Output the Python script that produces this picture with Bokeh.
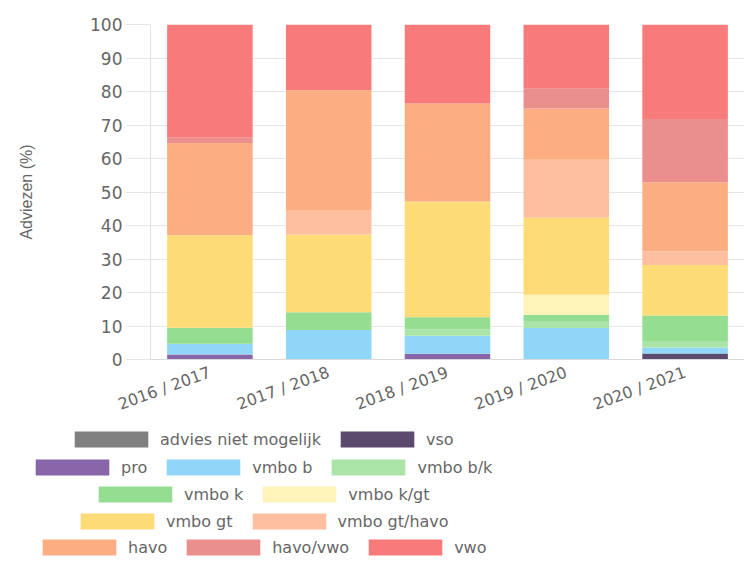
from bokeh.plotting import figure
from bokeh.models import FactorRange, Legend, LegendItem, SingleIntervalTicker
from bokeh.layouts import column
from bokeh.embed import file_html
from bokeh.resources import INLINE

years = ["2016 / 2017", "2017 / 2018", "2018 / 2019", "2019 / 2020", "2020 / 2021"]

series_names = ["advies niet mogelijk", "vso", "pro", "vmbo b", "vmbo b/k", "vmbo k",
                "vmbo k/gt", "vmbo gt", "vmbo gt/havo", "havo", "havo/vwo", "vwo"]

advies_niet_mogelijk = [0, 0, 0, 0, 0]
vso = [0, 0, 0, 0, 1.8]
pro = [1.5, 0, 1.7, 0, 0]
vmbo_b = [3.2, 8.8, 5.4, 9.4, 1.8]
vmbo_bk = [0, 0, 1.9, 1.9, 1.9]
vmbo_k = [4.8, 5.3, 3.6, 2.0, 7.6]
vmbo_kgt = [0, 0, 0, 6.0, 0]
vmbo_gt = [27.6, 23.2, 34.6, 23.0, 15.1]
vmbo_gt_havo = [0, 7.3, 0, 17.3, 4.1]
havo = [27.5, 35.8, 29.2, 15.3, 20.6]
havo_vwo = [1.6, 0, 0, 5.9, 18.9]
vwo = [33.8, 19.6, 23.6, 19.2, 28.2]

colors = ["#808080", "#5b4a6e", "#8966aa", "#8fd6f9", "#aae5a7", "#95dd90",
          "#fff3b9", "#fddc77", "#fdbf9f", "#fcae82", "#ea8f8d", "#f77b7b"]

series_values = [advies_niet_mogelijk, vso, pro, vmbo_b, vmbo_bk, vmbo_k,
                 vmbo_kgt, vmbo_gt, vmbo_gt_havo, havo, havo_vwo, vwo]

data = {"year": years}
for name, vals in zip(series_names, series_values):
    data[name] = vals

p = figure(x_range=FactorRange(factors=years, range_padding=0), y_range=(0, 100),
           width=744, height=425, output_backend="svg", toolbar_location=None,
           min_border_left=150, min_border_right=0, min_border_top=24,
           min_border_bottom=62)

renderers = p.vbar_stack(series_names, x="year", width=0.72, color=colors,
                         line_color=None, source=data)

p.outline_line_color = None
p.background_fill_color = "white"
p.xgrid.grid_line_color = None
p.ygrid.grid_line_color = "#e6e6e6"
p.ygrid.grid_line_width = 1

p.yaxis.ticker = SingleIntervalTicker(interval=10)
p.yaxis.axis_line_color = "#e0e0e0"
p.yaxis.major_tick_line_color = "#e6e6e6"
p.yaxis.major_tick_out = 24
p.yaxis.major_tick_in = 0
p.yaxis.minor_tick_line_color = None
p.yaxis.major_label_standoff = 4
p.yaxis.major_label_text_color = "#666666"
p.yaxis.major_label_text_font = "DejaVu Sans"
p.yaxis.major_label_text_font_size = "17px"
p.yaxis.axis_label = "Adviezen (%)"
p.yaxis.axis_label_text_font = "Liberation Sans"
p.yaxis.axis_label_text_font_style = "normal"
p.yaxis.axis_label_text_font_size = "16px"
p.yaxis.axis_label_text_color = "#666666"
p.yaxis.axis_label_standoff = 52

p.xaxis.axis_line_color = "#d9d9d9"
p.xaxis.major_tick_line_color = None
p.xaxis.minor_tick_line_color = None
p.xaxis.major_label_orientation = 0.35
p.xaxis.major_label_text_color = "#666666"
p.xaxis.major_label_text_font = "DejaVu Sans"
p.xaxis.major_label_text_font_size = "16px"
p.xaxis.major_label_standoff = 6

# legend panel: a separate, axis-free figure; its (hidden) renderers share the data
leg = figure(width=744, height=135, output_backend="svg", toolbar_location=None,
             x_range=FactorRange(factors=years), y_range=(0, 100),
             min_border_left=0, min_border_right=0, min_border_top=0,
             min_border_bottom=0)
leg.frame_align = False
leg.axis.visible = False
leg.grid.visible = False
leg.outline_line_color = None

swatches = leg.vbar_stack(series_names, x="year", width=0.72, color=colors,
                          line_color=None, source=data, visible=False)

rows = [[0, 1], [2, 3, 4], [5, 6], [7, 8], [9, 10, 11]]
row_x = [65, 26, 89, 71, 33]
row_y = [111, 83, 56, 29, 3]

for idxs, lx, ly in zip(rows, row_x, row_y):
    items = [LegendItem(label=series_names[i], renderers=[swatches[i]]) for i in idxs]
    lg = Legend(items=items, orientation="horizontal", location=(lx, ly),
                glyph_width=92, glyph_height=20, label_height=16,
                label_standoff=3, spacing=10, padding=0, margin=0,
                border_line_color=None, background_fill_alpha=0,
                inactive_fill_alpha=0,
                label_text_color="#666666", label_text_font="DejaVu Sans",
                label_text_font_size="16px")
    leg.add_layout(lg, "center")

layout = column(p, leg, spacing=0)

open("out.html", "w").write(file_html(layout, INLINE))
